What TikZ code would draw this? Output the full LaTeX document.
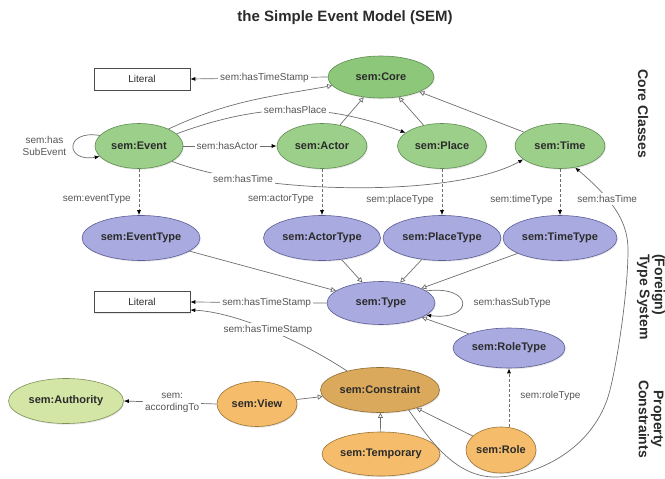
\documentclass[tikz,border=0pt]{standalone}
\usepackage{fontspec}
\setmainfont{Liberation Sans}
\usetikzlibrary{arrows.meta,shapes.geometric,shadows}
\definecolor{gfill}{HTML}{9CCF8A}
\definecolor{gcore}{HTML}{8DC77A}
\definecolor{gdraw}{HTML}{5E8C52}
\definecolor{afill}{HTML}{D3E6A5}
\definecolor{adraw}{HTML}{7F9158}
\definecolor{tfill}{HTML}{A9AADF}
\definecolor{tdraw}{HTML}{5C5D96}
\definecolor{cfill}{HTML}{DBA95B}
\definecolor{cdraw}{HTML}{8E6B34}
\definecolor{ofill}{HTML}{F5BD6B}
\definecolor{odraw}{HTML}{9A7336}
\definecolor{linec}{HTML}{6E6E6E}
\definecolor{labc}{HTML}{555555}
\definecolor{txtc}{HTML}{2B2B2B}
\tikzset{
  ell/.style={ellipse, inner sep=0pt, minimum height=45pt, line width=0.6pt,
    font=\bfseries\fontsize{11}{13}\selectfont, text=txtc,
    drop shadow={opacity=0.2, shadow xshift=0.8pt, shadow yshift=-1.2pt}},
  corecls/.style={ell, fill=gfill, draw=gdraw},
  typecls/.style={ell, fill=tfill, draw=tdraw},
  conscls/.style={ell, fill=cfill, draw=cdraw},
  orcls/.style={ell, fill=ofill, draw=odraw},
  authcls/.style={ell, fill=afill, draw=adraw},
  litbox/.style={rectangle, draw=black!70, fill=white, line width=0.6pt,
    minimum width=96pt, minimum height=22pt, inner sep=0pt,
    font=\fontsize{10}{12}\selectfont, text=txtc,
    drop shadow={opacity=0.2, shadow xshift=0.8pt, shadow yshift=-1.2pt}},
  propline/.style={draw=linec, line width=0.7pt, -{Latex[length=5pt,width=4pt,color=black]}},
  subline/.style={draw=linec, line width=0.7pt, -{Triangle[open,length=5pt,width=5pt,fill=white]}},
  typeline/.style={propline, dash pattern=on 3pt off 2pt},
  elabel/.style={font=\fontsize{10}{12}\selectfont, text=labc, fill=white, inner sep=2pt},
  sidelab/.style={font=\bfseries\fontsize{14}{15}\selectfont, text=txtc, rotate=-90, inner sep=0pt}
}
\begin{document}
\begin{tikzpicture}[x=1pt,y=-1pt]
\useasboundingbox (0,0) rectangle (665,479);
\node[font=\bfseries\fontsize{15}{18}\selectfont, text=txtc] (title) at (345,18) {the Simple Event Model (SEM)};
% nodes
\node[litbox] (lit1) at (142,79) {Literal};
\node[corecls, fill=gcore, minimum width=106pt, minimum height=42pt] (core) at (381,77) {sem:Core};
\node[corecls, minimum width=88pt] (event) at (139,146) {sem:Event};
\node[corecls, minimum width=90pt] (actor) at (322,146) {sem:Actor};
\node[corecls, minimum width=89pt] (place) at (442,146) {sem:Place};
\node[corecls, minimum width=90pt] (time) at (560,146) {sem:Time};
\node[typecls, minimum width=118pt] (eventtype) at (141,238) {sem:EventType};
\node[typecls, minimum width=117pt] (actortype) at (322,238) {sem:ActorType};
\node[typecls, minimum width=118pt] (placetype) at (442,238) {sem:PlaceType};
\node[typecls, minimum width=114pt] (timetype) at (560,238) {sem:TimeType};
\node[typecls, minimum width=108pt, minimum height=43pt] (type) at (381,303) {sem:Type};
\node[litbox, minimum height=21pt] (lit2) at (142,302) {Literal};
\node[typecls, minimum width=112pt, minimum height=40pt] (roletype) at (509,348) {sem:RoleType};
\node[conscls, minimum width=119pt] (constraint) at (380,390) {sem:Constraint};
\node[orcls, minimum width=80pt] (view) at (257,404) {sem:View};
\node[authcls, minimum width=115pt] (authority) at (66,401) {sem:Authority};
\node[orcls, minimum width=118pt, minimum height=44pt] (temporary) at (381,454) {sem:Temporary};
\node[orcls, minimum width=65pt, minimum height=46pt] (role) at (501,450) {sem:Role};
% side labels
\node[sidelab] (lcore) at (643,114) {Core Classes};
\node[sidelab, align=left] (ltype) at (651,297) {(Foreign)\\Type System};
\node[sidelab, align=center] (lprop) at (651,419) {Property\\Constraints};
% properties
\draw[propline] (core.west) -- (lit1.east) node[elabel, pos=0.46] {sem:hasTimeStamp};
\draw[subline] (event.30) to[out=25, in=190] (core.190);
\draw[propline] (event.18) to[out=20, in=160] node[elabel, pos=0.52] {sem:hasPlace} (place.160);
\draw[propline] (event.east) -- (actor.west) node[elabel, pos=0.47] {sem:hasActor};
\draw[propline] (event.-25) .. controls (260,195) and (455,198) .. (time.200) node[elabel, pos=0.22] {sem:hasTime};
\draw[propline] (event.165) .. controls +(-35,-6) and +(-35,6) .. (event.195)
  node[elabel, pos=0.5, left=5pt, fill=none, align=center, font=\fontsize{10}{12}\selectfont] {sem:has\\SubEvent};
% subclass to core
\draw[subline] (actor) -- (core);
\draw[subline] (place) -- (core);
\draw[subline] (time) -- (core);
% type-of
\draw[typeline] (event.south) -- (event.south |- eventtype.north) node[elabel, fill=none, pos=0.66, left=6pt] {sem:eventType};
\draw[typeline] (actor.south) -- (actor.south |- actortype.north) node[elabel, fill=none, pos=0.66, left=6pt] {sem:actorType};
\draw[typeline] (place.south) -- (place.south |- placetype.north) node[elabel, fill=none, pos=0.66, left=6pt] {sem:placeType};
\draw[typeline] (time.south) -- (time.south |- timetype.north) node[elabel, fill=none, pos=0.66, left=5pt] {sem:timeType};
% type system
\draw[subline] (eventtype) -- (type);
\draw[subline] (actortype) -- (type);
\draw[subline] (placetype) -- (type);
\draw[subline] (timetype) -- (type);
\draw[subline] (roletype) -- (type);
\draw[propline] (type.west) -- (lit2.east) node[elabel, pos=0.44] {sem:hasTimeStamp};
\draw[propline] (type.15) .. controls +(48,-6) and +(48,6) .. (type.-15)
  node[elabel, fill=none, pos=0.5, right=9pt] {sem:hasSubType};
% constraints
\draw[propline] (constraint.150) .. controls (300,340) and (235,312) .. ([yshift=-8pt]lit2.east)
  node[elabel, pos=0.5] {sem:hasTimeStamp};
\draw[propline] (view.west) -- (authority.east) node[elabel, pos=0.48, align=center] {sem:\\accordingTo};
\draw[subline] (view) -- (constraint);
\draw[subline] (temporary) -- (constraint);
\draw[subline] (role) -- (constraint);
\draw[typeline] (roletype.south |- role.north) -- (roletype.south) node[elabel, fill=none, pos=0.53, right=9pt] {sem:roleType};
\draw[propline] (constraint.-35) .. controls (430,440) and (455,477) .. (495,477)
  .. controls (535,477) and (595,450) .. (610,390)
  .. controls (618,358) and (628,290) .. (628,250)
  .. controls (628,225) and (617,203) .. (time.-55) node[elabel, pos=0.67] {sem:hasTime};
\end{tikzpicture}
\end{document}
